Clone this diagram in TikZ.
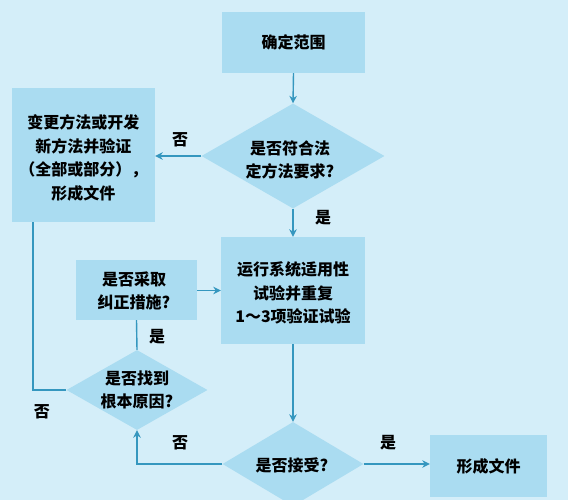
\documentclass[tikz,border=0pt]{standalone}
\usepackage{fontspec}
\setmainfont{Noto Sans CJK SC}
\usetikzlibrary{shapes.geometric,arrows.meta}
\definecolor{bgc}{HTML}{D4EEF9}
\definecolor{boxc}{HTML}{AADCF1}
\definecolor{linec}{HTML}{3597BF}
\newcommand{\txtfont}{\bfseries\fontsize{16}{23.5}\selectfont}
\tikzset{
  box/.style={rectangle, fill=boxc, inner sep=0pt, align=center, font=\txtfont},
  dia/.style={diamond, fill=boxc, inner sep=0pt},
  dtxt/.style={inner sep=0pt, align=center, font=\txtfont},
  lab/.style={inner sep=0pt, font=\txtfont},
  ln/.style={draw=linec, line width=1.4pt},
  arr/.style={ln, -{Stealth[length=7.5pt,width=7.5pt]}}
}
\begin{document}
\begin{tikzpicture}[x=1pt,y=-1pt]
\useasboundingbox (0,0) rectangle (568,500);
\clip (0,0) rectangle (568,500);
\fill[bgc] (0,0) rectangle (568,500);
% nodes
\node[box, minimum width=143pt, minimum height=61pt] (b1) at (293.5,42.5) {确定范围};
\node[dia, minimum width=183pt, minimum height=105pt] (d1) at (293,156) {};
\node[dtxt] (d1t) at (290,160) {是否符合法\\定方法要求?};
\node[box, minimum width=143pt, minimum height=134pt] (bl) at (83.5,155) {};
\node[dtxt] (blt) at (83.5,158) {变更方法或开发\\新方法并验证\\（全部或部分），\\形成文件};
\node[box, minimum width=144pt, minimum height=107pt] (b2) at (293,290.5) {};
\node[dtxt] (b2t) at (293,293) {运行系统适用性\\试验并重复\\1～3项验证试验};
\node[box, minimum width=121pt, minimum height=60pt] (bc) at (136.5,290) {};
\node[dtxt] (bct) at (134,291) {是否采取\\纠正措施?};
\node[dia, minimum width=141pt, minimum height=80pt] (d2) at (137,390) {};
\node[dtxt] (d2t) at (137,390) {是否找到\\根本原因?};
\node[dia, minimum width=141pt, minimum height=84pt] (d3) at (293,464) {};
\node[dtxt] (d3t) at (292,465) {是否接受?};
\node[box, minimum width=117pt, minimum height=62pt] (bf) at (488.5,466) {形成文件};
\coordinate (c1) at (33,222);
% connectors
\draw[arr] (b1.south) -- (d1.north);
\draw[arr] (d1.west) -- (d1.west -| bl.east);
\draw[arr] (d1.south) -- (b2.north);
\draw[arr] (bc.east |- b2.west) -- (b2.west);
\draw[ln] (bc.south) -- (d2.north);
\draw[ln] (d2.west) -| (c1);
\draw[arr] (b2.south) -- (d3.north);
\draw[arr] (d3.west) -| (d2.south);
\draw[arr] (d3.east) -- (d3.east -| bf.west);
% labels
\node[lab] (l1) at (180,140) {否};
\node[lab] (l2) at (323,218) {是};
\node[lab] (l3) at (157,337) {是};
\node[lab] (l4) at (42,412) {否};
\node[lab] (l5) at (180,443) {否};
\node[lab] (l6) at (388,443) {是};
\end{tikzpicture}
\end{document}
